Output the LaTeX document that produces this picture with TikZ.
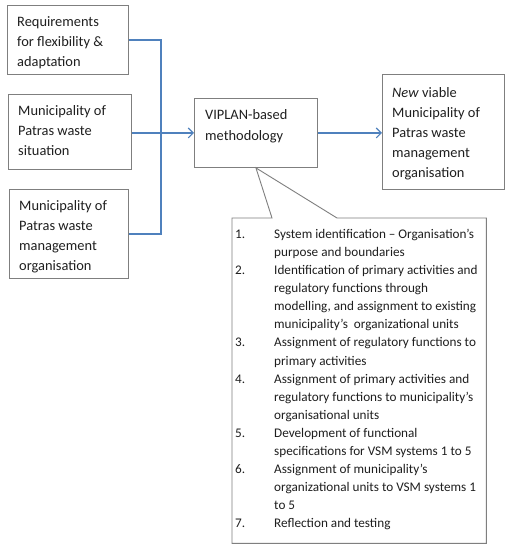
\documentclass[tikz,border=0pt]{standalone}
\usepackage{fontspec}
\setmainfont{Carlito}
\usetikzlibrary{arrows.meta}
\definecolor{boxgray}{HTML}{7F7F7F}
\definecolor{linkblue}{HTML}{4F81BD}
\definecolor{txtcol}{HTML}{1F1F1F}
\begin{document}
\begin{tikzpicture}[x=1pt,y=-1pt,
  box/.style={draw=boxgray, line width=0.9pt, fill=white, inner sep=0pt, anchor=north west},
  txt/.style={inner sep=0pt, anchor=north west, align=left, text=txtcol,
    font=\fontsize{14.4}{20}\selectfont, execute at begin node=\strut},
  steptxt/.style={inner sep=0pt, anchor=north west, text=txtcol,
    font=\fontsize{13.2}{18.1}\selectfont},
  link/.style={draw=linkblue, line width=1.1pt},
  linkarrow/.style={link, -{Straight Barb[length=5pt,width=10pt,line width=1.1pt]}}
]
\fill[white] (0,0) rectangle (509,550);
\useasboundingbox (0,0) rectangle (509,550);

% input boxes
\node[box, minimum width=121pt, minimum height=69pt] (req) at (7,5) {};
\node[txt] (reqt) at (17,16.5) {Requirements\\for flexibility \&\\adaptation};

\node[box, minimum width=123pt, minimum height=75pt] (sit) at (8,94) {};
\node[txt] (sitt) at (18,105) {Municipality of\\Patras waste\\situation};

\node[box, minimum width=119pt, minimum height=89pt] (org) at (9,189) {};
\node[txt] (orgt) at (19,200) {Municipality of\\Patras waste\\management\\organisation};

% methodology box
\node[box, minimum width=123pt, minimum height=69pt] (vp) at (194,98) {};
\node[txt, font=\fontsize{14.4}{21}\selectfont] (vpt) at (205,109) {VIPLAN-based\\methodology};

% output box
\node[box, minimum width=122pt, minimum height=115pt] (new) at (382,74) {};
\node[txt] (newt) at (392,87.5) {\textit{New} viable\\Municipality of\\Patras waste\\management\\organisation};

% connectors
\coordinate (bus) at (161,40);
\draw[link] (req.east |- bus) -- (bus) |- (org.east);
\draw[linkarrow] (vp.west -| sit.east) -- (vp.west);
\draw[linkarrow] (vp.east) -- (new.west |- vp.east);

% callout with steps
\node[minimum width=254pt, minimum height=325pt, inner sep=0pt, anchor=north west] (cb) at (232,218) {};
\coordinate (pl) at (272,218);
\coordinate (pr) at (337,218);
\draw[draw=boxgray, line width=0.9pt, fill=white, line join=miter]
  (cb.north west) -- (pl) -- (vp.south) -- (pr) -- (cb.north east)
  -- (cb.south east) -- (cb.south west) -- cycle;
\node[steptxt] (steps) at (235,225.5) {%
\begin{tabular}{@{}p{39pt}@{}l@{}}
1. & System identification -- Organisation’s\\
   & purpose and boundaries\\
2. & Identification of primary activities and\\
   & regulatory functions through\\
   & modelling, and assignment to existing\\
   & municipality’s\ \ organizational units\\
3. & Assignment of regulatory functions to\\
   & primary activities\\
4. & Assignment of primary activities and\\
   & regulatory functions to municipality’s\\
   & organisational units\\
5. & Development of functional\\
   & specifications for VSM systems 1 to 5\\
6. & Assignment of municipality’s\\
   & organizational units to VSM systems 1\\
   & to 5\\
7. & Reflection and testing
\end{tabular}};
\end{tikzpicture}
\end{document}
